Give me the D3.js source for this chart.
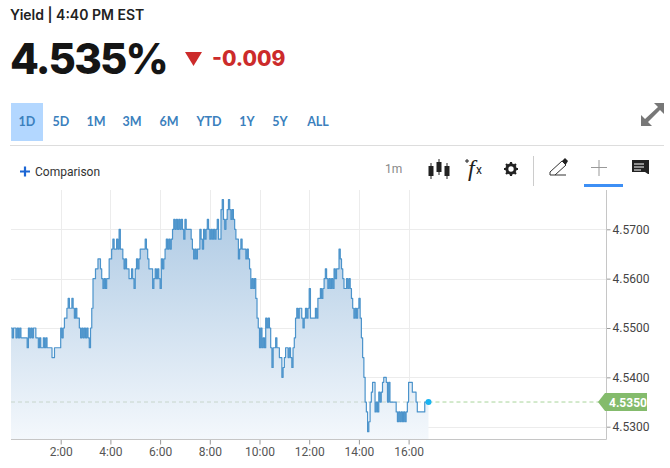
<!DOCTYPE html>
<html><head><meta charset="utf-8">
<script src="https://d3js.org/d3.v7.min.js"></script>
<style>html,body{margin:0;padding:0;background:#fff}svg{display:block}</style>
</head><body><div id="c"></div>
<script>
const stepMinutes = 3;
const yields = [
4.550,4.548,4.550,4.550,4.548,4.550,4.548,4.550,4.548,4.548,
4.548,4.548,4.548,4.546,4.550,4.548,4.550,4.548,4.550,4.550,
4.548,4.548,4.546,4.548,4.546,4.546,4.548,4.546,4.548,4.546,
4.546,4.546,4.546,4.544,4.544,4.546,4.546,4.546,4.546,4.546,
4.550,4.548,4.550,4.552,4.552,4.554,4.556,4.554,4.554,4.556,
4.554,4.552,4.554,4.552,4.552,4.550,4.548,4.550,4.548,4.550,
4.548,4.550,4.548,4.546,4.550,4.554,4.560,4.560,4.562,4.562,
4.564,4.564,4.562,4.560,4.558,4.560,4.558,4.560,4.560,4.564,
4.564,4.566,4.568,4.566,4.566,4.568,4.566,4.570,4.566,4.566,
4.564,4.562,4.564,4.562,4.562,4.560,4.560,4.562,4.560,4.558,
4.562,4.564,4.562,4.564,4.566,4.566,4.566,4.566,4.568,4.566,
4.564,4.562,4.562,4.562,4.558,4.560,4.562,4.560,4.562,4.560,
4.558,4.564,4.562,4.564,4.566,4.568,4.566,4.568,4.566,4.568,
4.570,4.572,4.570,4.572,4.570,4.572,4.570,4.572,4.570,4.568,
4.572,4.570,4.570,4.570,4.570,4.568,4.566,4.564,4.566,4.564,
4.566,4.566,4.570,4.568,4.566,4.570,4.568,4.570,4.572,4.570,
4.568,4.570,4.568,4.570,4.568,4.570,4.572,4.568,4.568,4.574,
4.576,4.572,4.570,4.572,4.574,4.576,4.574,4.572,4.574,4.572,
4.570,4.568,4.568,4.564,4.566,4.568,4.566,4.566,4.566,4.564,
4.566,4.564,4.562,4.558,4.560,4.558,4.560,4.556,4.552,4.550,
4.546,4.550,4.546,4.548,4.546,4.552,4.550,4.552,4.550,4.546,
4.542,4.546,4.546,4.548,4.546,4.546,4.544,4.544,4.540,4.542,
4.544,4.546,4.546,4.544,4.546,4.544,4.542,4.546,4.548,4.552,
4.554,4.552,4.554,4.554,4.552,4.550,4.552,4.554,4.552,4.554,
4.558,4.552,4.552,4.552,4.552,4.554,4.552,4.556,4.556,4.558,
4.556,4.558,4.560,4.562,4.560,4.558,4.560,4.558,4.560,4.558,
4.562,4.560,4.562,4.562,4.566,4.564,4.562,4.560,4.558,4.558,
4.560,4.558,4.560,4.558,4.556,4.554,4.552,4.554,4.552,4.554,
4.556,4.552,4.548,4.544,4.540,4.535,4.533,4.529,4.531,4.535,
4.537,4.539,4.539,4.533,4.535,4.533,4.537,4.535,4.537,4.539,
4.540,4.540,4.539,4.535,4.539,4.535,4.535,4.535,4.535,4.535,
4.533,4.531,4.533,4.531,4.533,4.531,4.533,4.531,4.533,4.535,
4.539,4.539,4.539,4.537,4.537,4.537,4.535,4.533,4.533,4.533,
4.533,4.533,4.533,4.535,4.535,4.535,4.535];
const hourTicks = [2,4,6,8,10,12,14,16];
const yieldTicks = [4.53,4.54,4.55,4.56,4.57];
const lastYield = 4.535;
const ranges = ["1D","5D","1M","3M","6M","YTD","1Y","5Y","ALL"];
const rangeCenters = [27,61,96,132,169,209,247,280,318];

const W=670,H=468;
const svg=d3.select("#c").append("svg").attr("width",W).attr("height",H).style("font-family","Lato, sans-serif");
const plot={l:11,r:607,t:190,b:440};
const x=d3.scaleLinear().domain([0,24*60]).range([11,11+24*24.85]);
const y=d3.scaleLinear().domain([4.53,4.57]).range([426.7,229.3]);
const rows=yields.map((v,i)=>({m:i*stepMinutes,v}));

// Header
svg.append("text").attr("x",10).attr("y",20).attr("font-family","Inter, sans-serif").attr("font-size",14).attr("font-weight",600).attr("fill","#222").text("Yield | 4:40 PM EST");
svg.append("text").attr("x",10).attr("y",74).attr("font-family","Inter, sans-serif").attr("font-size",42).attr("font-weight",800).attr("fill","#151515").attr("letter-spacing",-1.8).text("4.535%");
svg.append("path").attr("d","M185 52H202L193.5 66Z").attr("fill","#cc2b2b");
svg.append("text").attr("x",212).attr("y",66).attr("font-family","Inter, sans-serif").attr("font-size",21).attr("font-weight",800).attr("fill","#cc2b2b").text("-0.009");

// Range buttons
svg.append("rect").attr("x",11).attr("y",103).attr("width",32).attr("height",38).attr("fill","#b3d7ff");
svg.selectAll(".rng").data(ranges).join("text").attr("class","rng")
  .attr("x",(d,i)=>rangeCenters[i]).attr("y",126).attr("text-anchor","middle")
  .attr("font-size",12.5).attr("font-weight",700).attr("fill","#3b80bd").text(d=>d);
svg.append("line").attr("x1",10).attr("x2",664).attr("y1",145.5).attr("y2",145.5).attr("stroke","#ddd");

// Expand icon
svg.append("path").attr("fill","#777").attr("d","M641 126V115L645 119L658 107L654 103H664V114L660 110L648 122L652 126Z");

// Toolbar
svg.append("path").attr("d","M20 171.5H30M25 166.5V176.5").attr("stroke","#1c66d4").attr("stroke-width",2.2);
svg.append("text").attr("x",35).attr("y",176).attr("font-family","Roboto, sans-serif").attr("font-size",12).attr("fill","#333").text("Comparison");
svg.append("text").attr("x",385).attr("y",173).attr("font-family","Roboto, sans-serif").attr("font-size",12).attr("fill","#888").text("1m");
const ic=svg.append("g").attr("fill","#222").attr("stroke","#222");
[[431,171],[439,167],[447,171]].forEach(([cx,cy])=>{
  ic.append("rect").attr("x",cx-2.5).attr("y",cy-5).attr("width",5).attr("height",10).attr("stroke","none");
  ic.append("line").attr("x1",cx).attr("x2",cx).attr("y1",cy-8).attr("y2",cy+8).attr("stroke-width",1);
});
svg.append("text").attr("x",468).attr("y",176).attr("font-family","Liberation Serif, serif").attr("font-style","italic").attr("font-size",24).attr("fill","#222").text("f");
svg.append("text").attr("x",476).attr("y",174).attr("font-family","Roboto, sans-serif").attr("font-size",12).attr("fill","#222").text("x");
svg.append("path").attr("d","M465 161H469M467 159V163").attr("stroke","#222").attr("stroke-width",1);
svg.append("circle").attr("cx",511).attr("cy",169).attr("r",4.2).attr("fill","none").attr("stroke","#222").attr("stroke-width",3);
d3.range(8).forEach(i=>{const a=i*Math.PI/4;svg.append("line").attr("x1",511+5*Math.cos(a)).attr("y1",169+5*Math.sin(a)).attr("x2",511+7*Math.cos(a)).attr("y2",169+7*Math.sin(a)).attr("stroke","#222").attr("stroke-width",2.2);});
svg.append("line").attr("x1",533.5).attr("x2",533.5).attr("y1",156).attr("y2",186).attr("stroke","#ccc");
svg.append("path").attr("d","M550 172L562 161L566 165L555 175H550V172M555 175H566").attr("fill","none").attr("stroke","#333").attr("stroke-width",1);
svg.append("path").attr("d","M562 161L565 158L568 161L565.5 165Z").attr("fill","#222");
svg.append("path").attr("d","M591 167.5H607M599 160V176").attr("stroke","#999").attr("stroke-width",1);
svg.append("rect").attr("x",584).attr("y",184).attr("width",39).attr("height",3).attr("fill","#3d8ff5");
svg.append("path").attr("fill","#222").attr("d","M632 160H649V174H648L645 172H632Z");
svg.append("path").attr("stroke","#fff").attr("stroke-width",1).attr("d","M634 164H644M634 167H644M634 170H641");

// Gradient
const defs=svg.append("defs");
const g=defs.append("linearGradient").attr("id","ag").attr("x1",0).attr("x2",0).attr("y1",0).attr("y2",1);
g.append("stop").attr("offset","0%").attr("stop-color","#abc8e3");
g.append("stop").attr("offset","100%").attr("stop-color","#f4f8fc");

// Grid
const grid=svg.append("g").attr("stroke","#ececec");
yieldTicks.forEach(t=>grid.append("line").attr("x1",plot.l).attr("x2",plot.r).attr("y1",Math.round(y(t))+.5).attr("y2",Math.round(y(t))+.5));
hourTicks.forEach(t=>grid.append("line").attr("x1",Math.round(x(t*60))+.5).attr("x2",Math.round(x(t*60))+.5).attr("y1",plot.t).attr("y2",plot.b));

// Area + line
const area=d3.area().x(d=>x(d.m)).y0(plot.b).y1(d=>y(d.v)).curve(d3.curveStepAfter);
svg.append("path").datum(rows).attr("d",area).attr("fill","url(#ag)");
const last=rows[rows.length-1];
const ty=y(lastYield);
svg.append("line").attr("x1",plot.l).attr("x2",x(last.m)).attr("y1",ty).attr("y2",ty).attr("stroke","#b9c9b8").attr("stroke-opacity",.7).attr("stroke-dasharray","4 3");
const line=d3.line().x(d=>x(d.m)).y(d=>y(d.v)).curve(d3.curveStepAfter);
svg.append("path").datum(rows).attr("d",line).attr("fill","none").attr("stroke","#4b93cb").attr("stroke-width",1.2).attr("stroke-linejoin","round");

// Axes
const yAxis=d3.axisRight(y).tickValues(yieldTicks).tickFormat(d3.format(".4f")).tickSize(4).tickPadding(2);
const gy=svg.append("g").attr("transform",`translate(${plot.r-.5},0)`).call(yAxis);
gy.select(".domain").remove();
gy.selectAll("line").attr("stroke","#999");
gy.selectAll("text").attr("font-family","Roboto, sans-serif").attr("font-size",12).attr("fill","#444");
const xAxis=d3.axisBottom(x).tickValues(hourTicks.map(h=>h*60)).tickFormat(m=>(m/60)+":00").tickSize(5).tickPadding(3);
const gx=svg.append("g").attr("transform",`translate(0,${plot.b-.5})`).call(xAxis);
gx.select(".domain").remove();
gx.selectAll("line").attr("stroke","#999");
gx.selectAll("text").attr("font-family","Roboto, sans-serif").attr("font-size",12).attr("fill","#555");
svg.append("path").attr("d",`M${plot.r-.5} ${plot.t}V${plot.b-.5}H${plot.l}`).attr("fill","none").attr("stroke","#c6c6c6");

// Last price
svg.append("line").attr("x1",x(last.m)).attr("x2",600).attr("y1",ty).attr("y2",ty).attr("stroke","#a9d49a").attr("stroke-dasharray","4 3");
svg.append("circle").attr("cx",x(last.m)).attr("cy",ty).attr("r",3).attr("fill","#18b4f2");
svg.append("path").attr("fill","#84bb6c").attr("d",`M598 ${ty}L605 ${ty-9}H647V${ty+9}H605Z`);
svg.append("text").attr("x",609).attr("y",ty+4.5).attr("font-family","Roboto, sans-serif").attr("font-size",12).attr("font-weight",700).attr("fill","#fff").text(d3.format(".4f")(lastYield));
</script></body></html>
